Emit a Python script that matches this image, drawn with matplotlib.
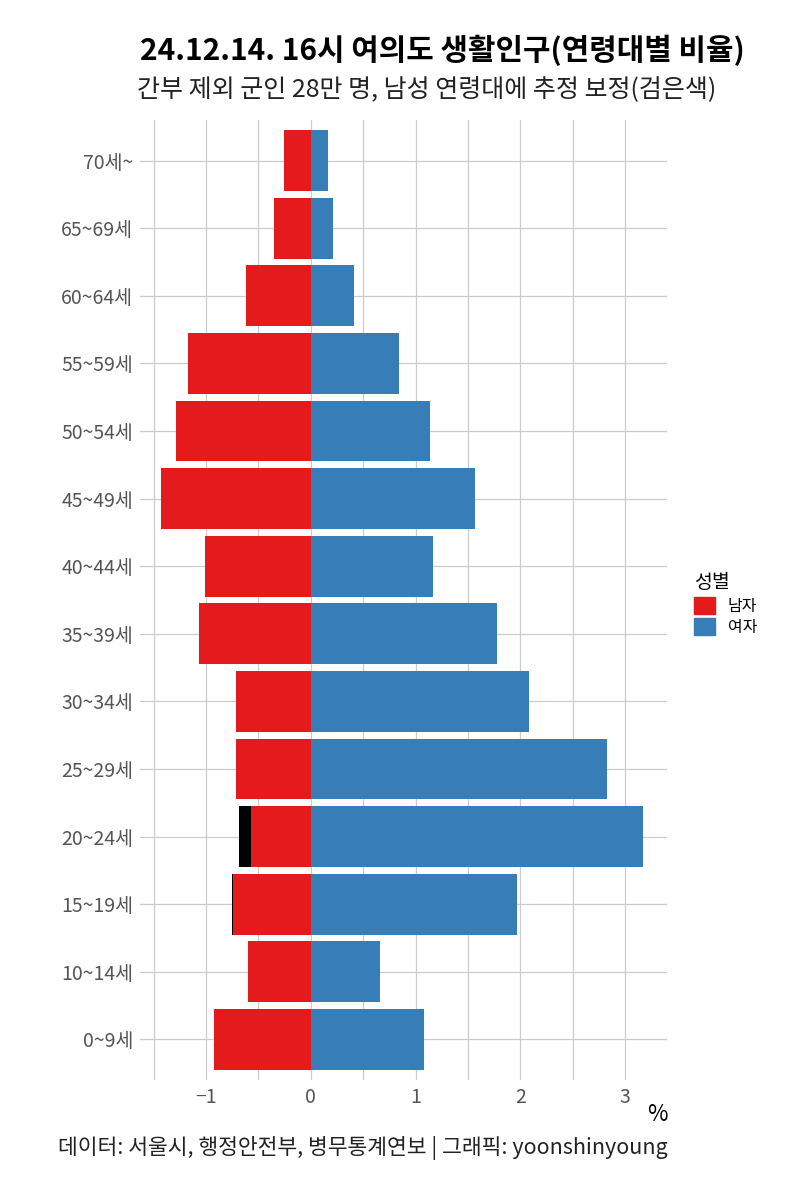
import numpy as np
import matplotlib.pyplot as plt
from matplotlib.patches import Patch

plt.rcParams['font.family'] = ['Noto Sans CJK KR', 'DejaVu Sans']

ages = ['0~9세', '10~14세', '15~19세', '20~24세', '25~29세', '30~34세', '35~39세',
        '40~44세', '45~49세', '50~54세', '55~59세', '60~64세', '65~69세', '70세~']
male = [0.92, 0.60, 0.74, 0.57, 0.71, 0.71, 1.07, 1.01, 1.43, 1.29, 1.17, 0.62, 0.35, 0.26]
female = [1.08, 0.66, 1.97, 3.17, 2.83, 2.08, 1.78, 1.17, 1.57, 1.14, 0.84, 0.41, 0.21, 0.16]
military = [0, 0, 0.012, 0.12, 0, 0, 0, 0, 0, 0, 0, 0, 0, 0]

red = '#E41A1C'
blue = '#377EB8'

fig = plt.figure(figsize=(8, 12), dpi=100)
ax = fig.add_axes([0.175, 0.1, 0.659, 0.8])

y = np.arange(len(ages))
m = -np.array(male)
ax.barh(y, m, height=0.9, color=red, zorder=3)
ax.barh(y, -np.array(military), left=m, height=0.9, color='black', zorder=3)
ax.barh(y, female, height=0.9, color=blue, zorder=3)

ax.set_xlim(-1.63, 3.40)
ax.set_ylim(-0.6, len(ages) - 0.4)
ax.set_yticks(y)
ax.set_yticklabels(ages)
ax.set_xticks([-1, 0, 1, 2, 3])
ax.set_xticks([-1.5, -0.5, 0.5, 1.5, 2.5], minor=True)
ax.tick_params(axis='both', which='both', length=0, labelsize=14, labelcolor='#555555')
ax.tick_params(axis='x', pad=5)
ax.tick_params(axis='y', pad=5)
ax.grid(True, which='both', color='#cccccc', linewidth=0.9, zorder=0)
for s in ax.spines.values():
    s.set_visible(False)

fig.text(0.553, 0.958, '24.12.14. 16시 여의도 생활인구(연령대별 비율)', ha='center', va='center',
         fontsize=21.5, fontweight='bold')
fig.text(0.171, 0.925, '간부 제외 군인 28만 명, 남성 연령대에 추정 보정(검은색)', ha='left', va='center',
         fontsize=18, color='#222222')
fig.text(0.834, 0.071, '%', ha='right', va='center', fontsize=16)
fig.text(0.834, 0.043, '데이터: 서울시, 행정안전부, 병무통계연보 | 그래픽: yoonshinyoung', ha='right',
         va='center', fontsize=15.5, color='#222222')

handles = [Patch(color=red, label='남자'), Patch(color=blue, label='여자')]
leg = fig.legend(handles=handles, title='성별', loc='upper left', bbox_to_anchor=(0.85, 0.535),
                 frameon=False, fontsize=11.5, title_fontsize=14, handlelength=1.3, handleheight=1.3,
                 handletextpad=0.8, labelspacing=0.2)
leg._legend_box.align = 'left'

fig.savefig('out.png', dpi=100)
